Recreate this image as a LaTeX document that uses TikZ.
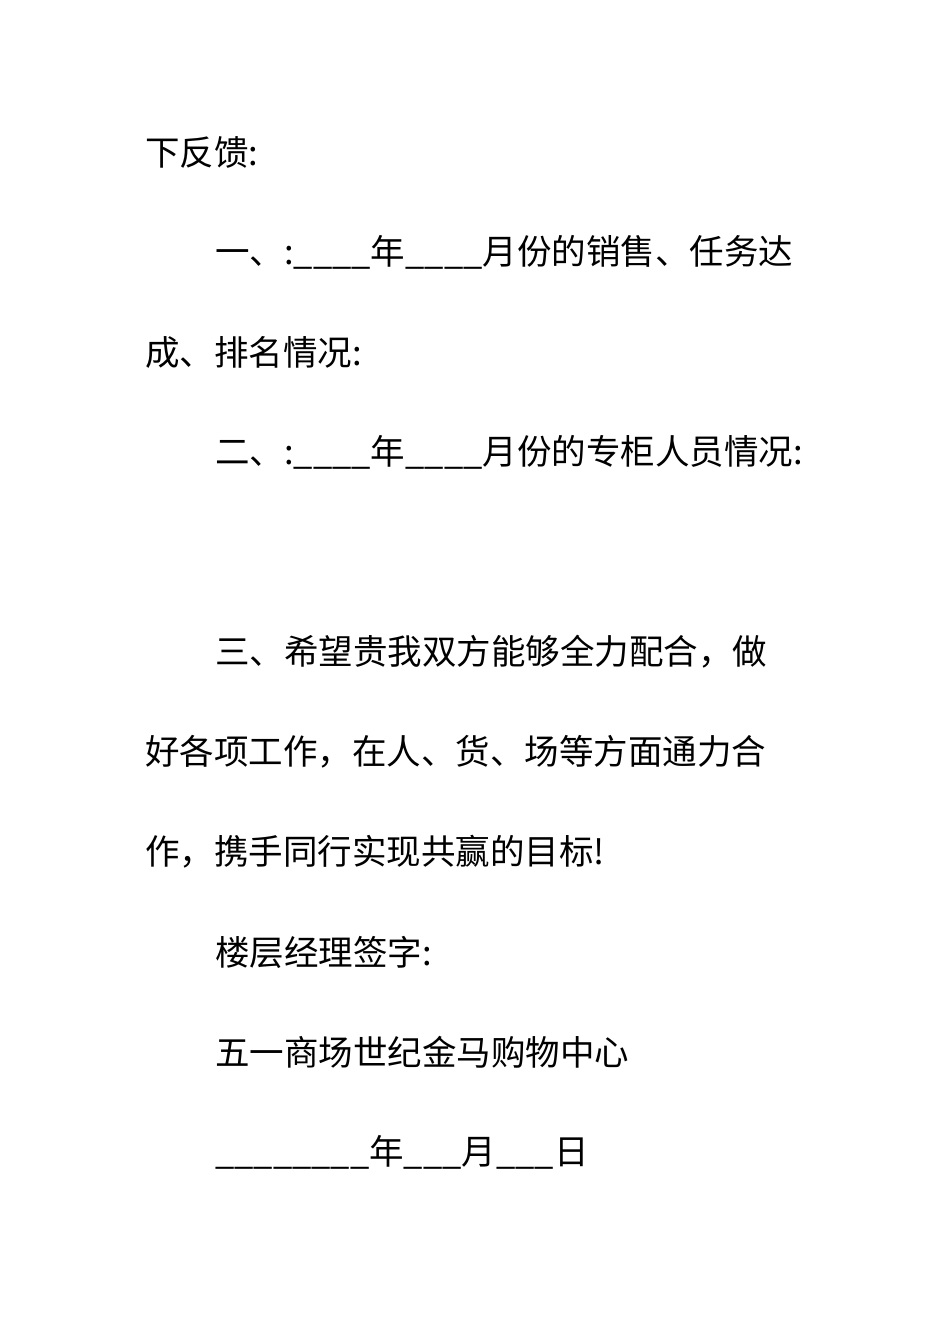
\documentclass[tikz,border=0pt]{standalone}
\usepackage{fontspec}
\setmainfont{Noto Sans CJK SC}
\begin{document}
\begin{tikzpicture}[x=1pt,y=-1pt,
  ln/.style={anchor=west,inner sep=0pt,font=\fontsize{34.5}{36}\selectfont}]
\useasboundingbox[fill=white] (0,0) rectangle (950,1344);
\node[ln] (l1) at (145,152) {下反馈:};
\node[ln] (l2) at (215,252) {一、:\_\_\_\_年\_\_\_\_月份的销售、任务达};
\node[ln] (l3) at (145,352) {成、排名情况:};
\node[ln] (l4) at (215,452) {二、:\_\_\_\_年\_\_\_\_月份的专柜人员情况:};
\node[ln] (l5) at (215,652) {三、希望贵我双方能够全力配合，做};
\node[ln] (l6) at (145,752) {好各项工作，在人、货、场等方面通力合};
\node[ln] (l7) at (145,852) {作，携手同行实现共赢的目标!};
\node[ln] (l8) at (215,952) {楼层经理签字:};
\node[ln] (l9) at (215,1052) {五一商场世纪金马购物中心};
\node[ln] (l10) at (215,1152) {\_\_\_\_\_\_\_\_年\_\_\_月\_\_\_日};
\end{tikzpicture}
\end{document}
